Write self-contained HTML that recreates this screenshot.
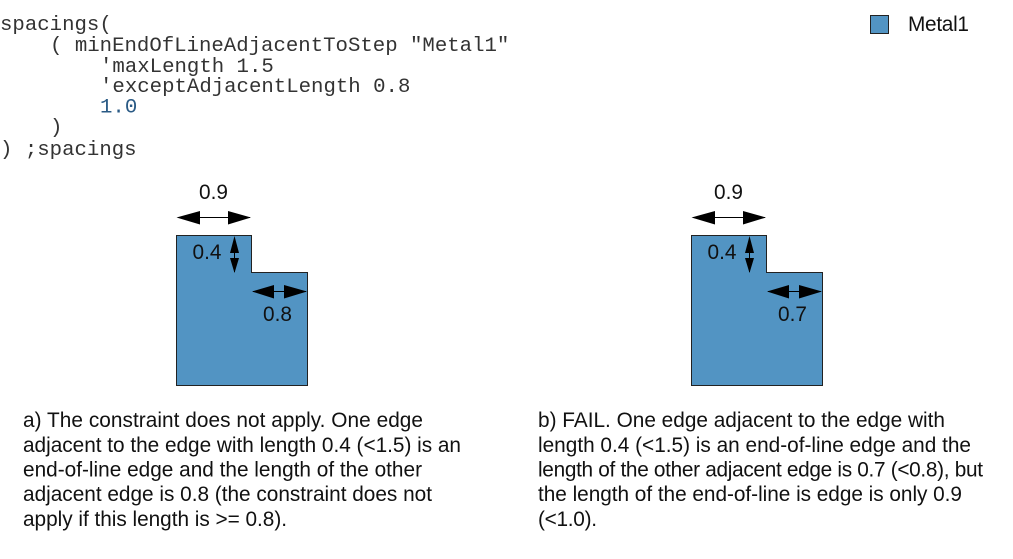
<!DOCTYPE html>
<html><head><meta charset="utf-8"><style>
html,body{margin:0;padding:0;background:#fff}
svg{display:block}
.c{font-family:"Liberation Mono",monospace;font-size:20.7px;fill:#333}
.t{font-family:"Liberation Sans",sans-serif;font-size:20.8px;fill:#111}
.m{font-family:"Liberation Sans",sans-serif;font-size:20.8px;fill:#111}
</style></head><body>
<svg width="1013" height="559" viewBox="0 0 1013 559" xmlns="http://www.w3.org/2000/svg">
<defs>
<g id="arrows">
<path d="M178 217.500 L250 217.500" stroke="#000" stroke-width="1"/>
<path d="M176.500 217.500 L200 211 L200 224.500 Z M251 217.500 L228 211 L228 224.500 Z" fill="#000"/>
<path d="M234.500 238 L234.500 272" stroke="#000" stroke-width="1"/>
<path d="M234.500 236 L230 253 L239 253 Z M234.500 273 L230 258 L239 258 Z" fill="#000"/>
<path d="M253 291.500 L306 291.500" stroke="#000" stroke-width="1"/>
<path d="M252 291.500 L274 285 L274 298.500 Z M307 291.500 L284 285 L284 298.500 Z" fill="#000"/>
</g>
<path id="shape" d="M176.500 235.500 H251.500 V272.500 H307.500 V385.500 H176.500 Z" fill="#5294c3" stroke="#222" stroke-width="1"/>
</defs>
<text class="c" x="0" y="30">spacings(</text>
<text class="c" x="50" y="51" xml:space="preserve">( minEndOfLineAdjacentToStep "Metal1"</text>
<text class="c" x="100" y="72">'maxLength 1.5</text>
<text class="c" x="100" y="92">'exceptAdjacentLength 0.8</text>
<text class="c" x="100" y="112.500" style="fill:#2a5a85">1.0</text>
<text class="c" x="50" y="133">)</text>
<text class="c" x="0" y="155">) ;spacings</text>

<rect x="870.500" y="15.500" width="18" height="18" fill="#5294c3" stroke="#222" stroke-width="1"/>
<text class="m" x="908" y="31" textLength="61">Metal1</text>

<use href="#shape"/>
<use href="#arrows"/>
<text class="m" x="199" y="199">0.9</text>
<text class="m" x="192.500" y="259">0.4</text>
<text class="m" x="263" y="321">0.8</text>

<g transform="translate(515 0)">
<use href="#shape"/>
<use href="#arrows"/>
<text class="m" x="199" y="199">0.9</text>
<text class="m" x="192.500" y="259">0.4</text>
<text class="m" x="263" y="321">0.7</text>
</g>

<text class="t" x="23" y="427" textLength="400">a) The constraint does not apply. One edge</text>
<text class="t" x="23" y="452" textLength="438">adjacent to the edge with length 0.4 (&lt;1.5) is an</text>
<text class="t" x="23" y="476.500" textLength="399">end-of-line edge and the length of the other</text>
<text class="t" x="23" y="501" textLength="409">adjacent edge is 0.8 (the constraint does not</text>
<text class="t" x="23" y="526" textLength="264">apply if this length is &gt;= 0.8).</text>

<text class="t" x="538" y="427" textLength="407">b) FAIL. One edge adjacent to the edge with</text>
<text class="t" x="538" y="452" textLength="433">length 0.4 (&lt;1.5) is an end-of-line edge and the</text>
<text class="t" x="538" y="476.500" textLength="445">length of the other adjacent edge is 0.7 (&lt;0.8), but</text>
<text class="t" x="538" y="501" textLength="424">the length of the end-of-line is edge is only 0.9</text>
<text class="t" x="538" y="526" textLength="59">(&lt;1.0).</text>
</svg>
</body></html>
